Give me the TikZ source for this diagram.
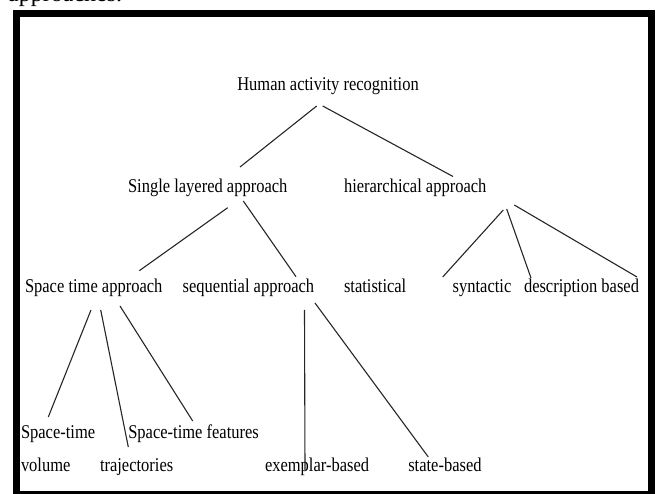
\documentclass[tikz,border=0pt]{standalone}
\usepackage{fontspec}
\setmainfont{Liberation Serif}
\newcommand{\hx}[1]{\scalebox{0.846}[1]{#1}}
\begin{document}
\begin{tikzpicture}[x=1pt,y=-1pt,
  lbl/.style={anchor=base west,inner sep=0pt,outer sep=0pt,font=\fontsize{19.5}{33}\selectfont},
  conn/.style={line width=1.1pt,draw=black!85}]
\useasboundingbox (0,0) rectangle (657,494);
\begin{scope}
\clip (0,0) rectangle (657,494);
\node[anchor=base west,inner sep=0pt,font=\fontsize{24}{28}\selectfont] (cap) at (8,1.5) {approaches.};
\draw[line width=7.3pt] (16.3,13.7) rectangle (651.5,494.5);
\end{scope}
% labels
\node[lbl] (har) at (237.3,91) {\hx{Human activity recognition}};
\node[lbl] (single) at (128,193) {\hx{Single layered approach}};
\node[lbl] (hier) at (344,193) {\hx{hierarchical approach}};
\node[lbl] (spt) at (25,293) {\hx{Space time approach}};
\node[lbl] (seq) at (182.7,293) {\hx{sequential approach}};
\node[lbl] (stat) at (344,293) {\hx{statistical}};
\node[lbl] (synt) at (452.7,293) {\hx{syntactic}};
\node[lbl] (desc) at (524,293) {\hx{description based}};
\node[lbl] (stv) at (21,439) {\hx{\begin{tabular}[t]{@{}l@{}}Space-time\\volume\end{tabular}}};
\node[lbl] (traj) at (100,472) {\hx{trajectories}};
\node[lbl] (stf) at (128.3,439) {\hx{Space-time features}};
\node[lbl] (exem) at (265,472) {\hx{exemplar-based}};
\node[lbl] (state) at (408.3,472) {\hx{state-based}};
% connector end points
\coordinate (har-a) at (316.7,106);
\coordinate (har-b) at (322.7,106);
\coordinate (single-t) at (240,167);
\coordinate (hier-t) at (453,176.5);
\coordinate (single-a) at (227.7,207.7);
\coordinate (single-b) at (243.3,201);
\coordinate (spt-t) at (139.3,270.7);
\coordinate (seq-t) at (296,276.7);
\coordinate (hier-a) at (503.3,210);
\coordinate (hier-b) at (506.7,209);
\coordinate (hier-c) at (514.3,205);
\coordinate (synt-t) at (442.7,277);
\coordinate (desc-t1) at (531,278);
\coordinate (desc-t2) at (637,277);
\coordinate (spt-a) at (91,310);
\coordinate (spt-b) at (100.7,310);
\coordinate (spt-c) at (120,306);
\coordinate (stv-t) at (48.3,417);
\coordinate (traj-t) at (128.3,447);
\coordinate (stf-t) at (192.7,421);
\coordinate (seq-a) at (304.5,310);
\coordinate (seq-b) at (315,303);
\coordinate (exem-t) at (305,470);
\coordinate (state-t) at (428.3,457);
% connectors
\draw[conn] (har-a) -- (single-t);
\draw[conn] (har-b) -- (hier-t);
\draw[conn] (single-a) -- (spt-t);
\draw[conn] (single-b) -- (seq-t);
\draw[conn] (hier-a) -- (synt-t);
\draw[conn] (hier-b) -- (desc-t1);
\draw[conn] (hier-c) -- (desc-t2);
\draw[conn] (spt-a) -- (stv-t);
\draw[conn] (spt-b) -- (traj-t);
\draw[conn] (spt-c) -- (stf-t);
\draw[conn] (seq-a) -- (exem-t);
\draw[conn] (seq-b) -- (state-t);
\end{tikzpicture}
\end{document}
